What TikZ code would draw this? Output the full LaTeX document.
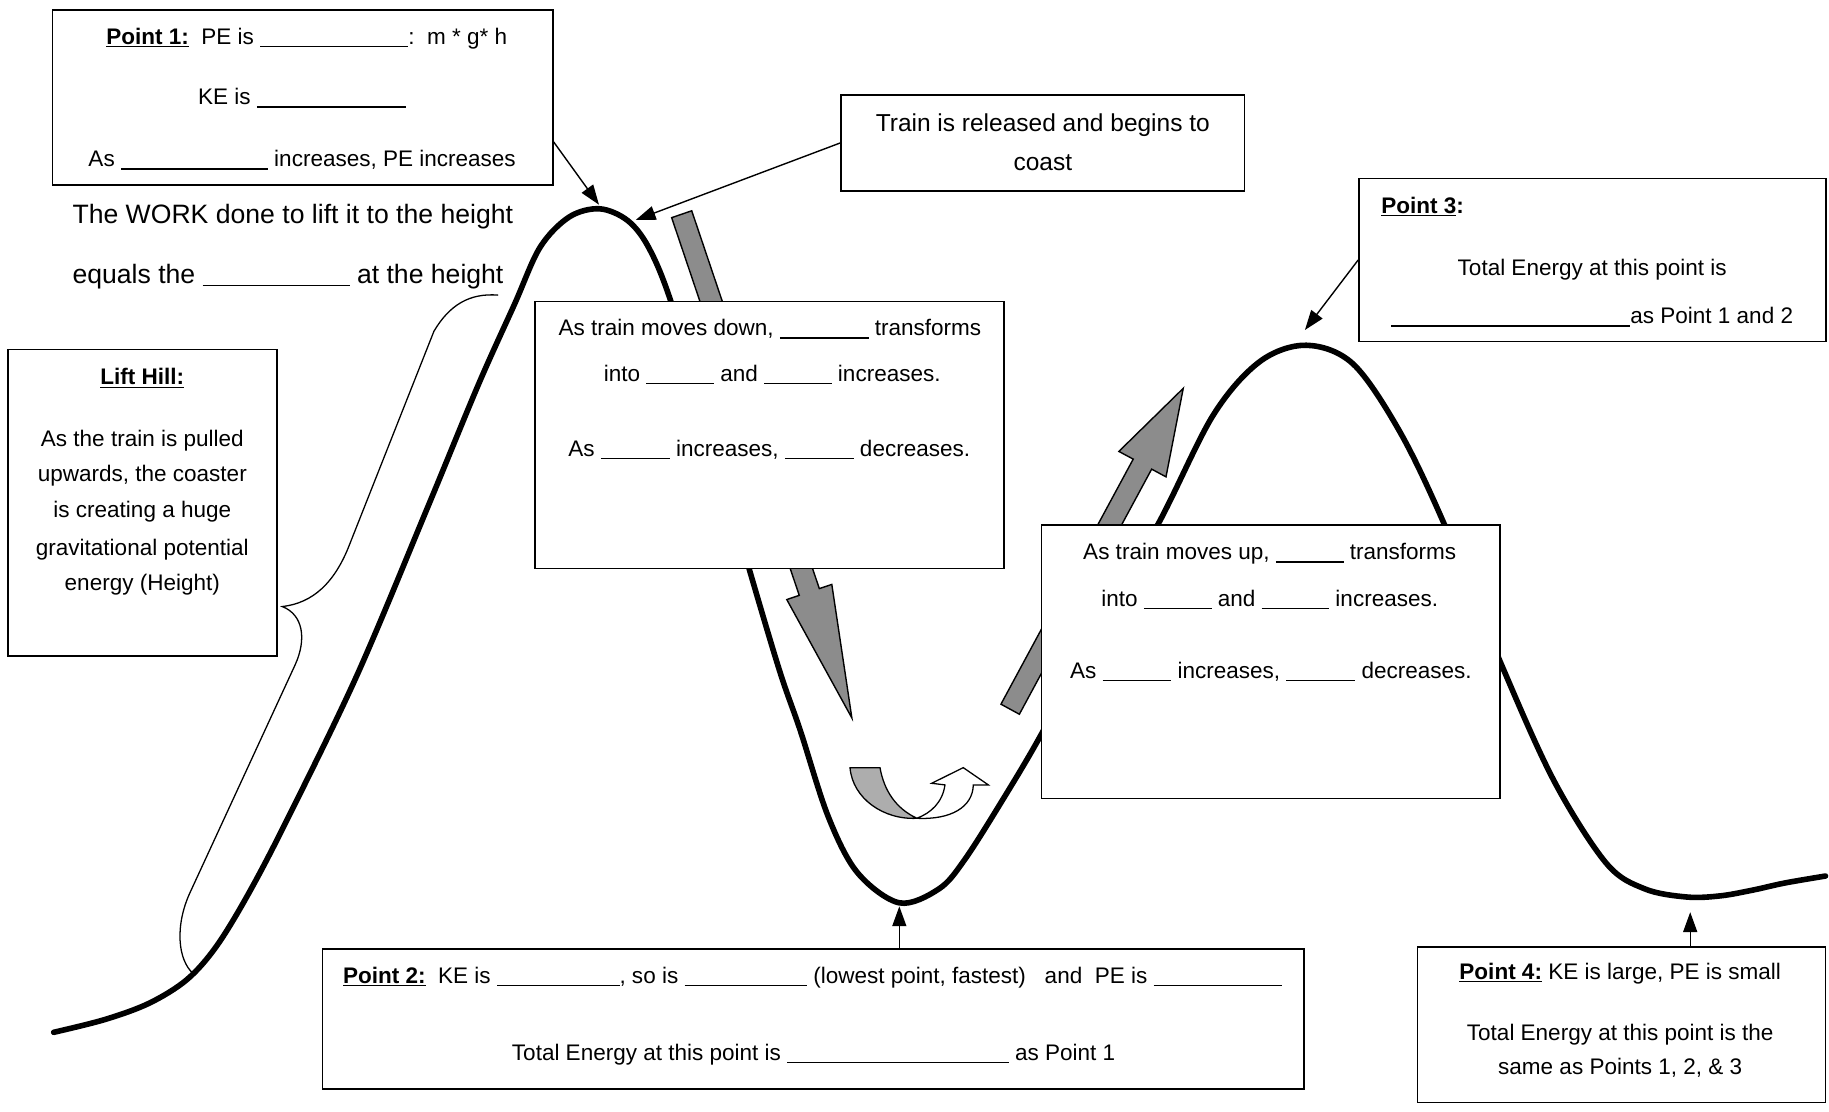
\documentclass[tikz,border=0pt]{standalone}
\usepackage{fontspec}
\setmainfont{Liberation Sans}
\usetikzlibrary{arrows.meta,calc}
\definecolor{arrowgray}{gray}{0.55}
\definecolor{ugray}{gray}{0.68}
\newcommand{\bl}[1]{\rule[-2.5pt]{#1pt}{1.2pt}}
\tikzset{
  boxst/.style={draw, line width=1.3pt, fill=white, inner sep=0pt},
  txt/.style={font=\fontsize{19.3pt}{23pt}\selectfont, inner sep=0pt, anchor=base},
  txtl/.style={txt, anchor=base west},
  bigtxt/.style={font=\fontsize{21pt}{25pt}\selectfont, inner sep=0pt, anchor=base},
  worktxt/.style={font=\fontsize{22.8pt}{27pt}\selectfont, inner sep=0pt, anchor=base west},
  track/.style={line width=4.8pt, line cap=round, line join=round},
  conn/.style={line width=1.2pt, -{Triangle[length=17pt,width=12pt]}},
  garrow/.style={draw, line width=1.2pt, fill=arrowgray, line join=miter},
  bracest/.style={line width=1.1pt}
}
\begin{document}
\begin{tikzpicture}[x=1pt,y=-1pt]
\path[fill=white] (0,0) rectangle (1568,952.46);
\useasboundingbox (0,0) rectangle (1568,952.46);

% roller coaster track
\draw[track] plot[smooth, tension=0.55] coordinates {
 (46,885) (90,874) (128,860) (160,840) (185,812) (212,768) (245,705) (306,579) (367,434)
 (410,330) (441,261) (463,212) (488,186) (514,179) (538,189) (556,212) (575,258)
 (607,365) (640,480) (668,574) (686,626) (710,700) (735,748) (771,774) (805,762)
 (827,737) (860,685) (893,629) (940,540) (993,449) (1040,356) (1080,310) (1120,296)
 (1160,312) (1200,370) (1238,449) (1286,567) (1332,669) (1377,740)
 (1410,762) (1446,769) (1475,768) (1503,763) (1530,757) (1565,751)};

% brace along the lift hill
\draw[bracest] (427,253) .. controls (402,251) and (385,262) .. (372,284) -- (300,466)
  .. controls (287,500) and (268,517) .. (242,520)
  .. controls (260,527) and (263,548) .. (253,570) -- (163,765)
  .. controls (150,793) and (152,823) .. (166,835);

% grey block arrow going down
\draw[garrow] (575.8,186.6) -- (593.0,180.7) -- (702.4,504.6) -- (713.1,501.0)
  -- (730.3,615.5) -- (674.5,514.0) -- (685.2,510.4) -- cycle;

% grey block arrow going up
\draw[garrow] (858.1,603.7) -- (873.9,612.3) -- (987.3,402.2) -- (999.6,408.8)
  -- (1014.4,332.9) -- (959.2,387.0) -- (971.5,393.6) -- cycle;

% U-turn arrow at the bottom
\draw[line width=1.1pt, fill=ugray] (728.7,658.1) -- (754.4,658.1)
  .. controls (758,678) and (768,693) .. (786,701.5)
  .. controls (758,703) and (731,685) .. (728.7,658.1) -- cycle;
\draw[line width=1.1pt, fill=white, line join=miter] (786,701.5)
  .. controls (815,703) and (834,692) .. (834.4,672.9) -- (847.3,672.9)
  -- (825.8,658.1) -- (798.7,671.5) -- (810.1,672.9)
  .. controls (808,688) and (798,697) .. (786,701.5) -- cycle;

% boxes
\node[boxst, minimum width=428.9pt, minimum height=150pt] (p1box) at (259.45,83.6) {};
\node[boxst, minimum width=346pt, minimum height=82.3pt] (trainbox) at (894,122.55) {};
\node[boxst, minimum width=230.6pt, minimum height=262.6pt] (liftbox) at (122,431.1) {};
\node[boxst, minimum width=402.1pt, minimum height=228.9pt] (downbox) at (659.65,373.05) {};
\node[boxst, minimum width=393pt, minimum height=234.4pt] (upbox) at (1089.5,567.2) {};
\node[boxst, minimum width=400.6pt, minimum height=140pt] (p3box) at (1365.3,222.9) {};
\node[boxst, minimum width=841.7pt, minimum height=120pt] (p2box) at (697.15,873.6) {};
\node[boxst, minimum width=350pt, minimum height=133pt] (p4box) at (1390,878.5) {};

% Point 1 texts
\node[txt] (p1a) at (263,38) {\underline{\textbf{Point 1:}}\ \ PE is \bl{127}:\ \ m * g* h};
\node[txt] (p1b) at (259,90) {KE is \bl{128}};
\node[txt] (p1c) at (259,143) {As \bl{126} increases, PE increases};

% work texts
\node[worktxt] (work1) at (62,191.5) {The WORK done to lift it to the height};
\node[worktxt] (work2) at (62,243) {equals the \bl{126} at the height};

% train box
\node[bigtxt] (train1) at (894,113) {Train is released and begins to};
\node[bigtxt] (train2) at (894,146) {coast};

% lift hill
\node[txt] (lift0) at (122,330) {\underline{\textbf{Lift Hill:}}};
\node[txt] (lift1) at (122,382.5) {As the train is pulled};
\node[txt] (lift2) at (122,413) {upwards, the coaster};
\node[txt] (lift3) at (122,444) {is creating a huge};
\node[txt] (lift4) at (122,476) {gravitational potential};
\node[txt] (lift5) at (122,506) {energy (Height)};

% down box
\node[txt] (down1) at (660,288) {As train moves down, \bl{76} transforms};
\node[txt] (down2) at (662,327) {into \bl{58} and \bl{58} increases.};
\node[txt] (down3) at (659.5,391) {As \bl{59} increases, \bl{59} decreases.};

% up box
\node[txt] (up1) at (1088.5,480) {As train moves up, \bl{58} transforms};
\node[txt] (up2) at (1088.5,520) {into \bl{58} and \bl{58} increases.};
\node[txt] (up3) at (1089.5,581.5) {As \bl{59} increases, \bl{59} decreases.};

% point 3
\node[txtl] (p3a) at (1184,183) {\underline{\textbf{Point 3}}\textbf{:}};
\node[txt] (p3b) at (1365,236) {Total Energy at this point is};
\node[txtl] (p3c) at (1192.5,277.5) {\bl{205}as Point 1 and 2};

% point 2
\node[txtl] (p2a) at (294,843) {\underline{\textbf{Point 2:}}\ \ KE is \bl{105}, so is \bl{105} (lowest point, fastest)\ \ \ and\ \ PE is \bl{110}};
\node[txt] (p2b) at (697.5,909) {Total Energy at this point is \bl{190} as Point 1};

% point 4
\node[txt] (p4a) at (1389,840) {\underline{\textbf{Point 4:}} KE is large, PE is small};
\node[txt] (p4b) at (1389,892) {Total Energy at this point is the};
\node[txt] (p4c) at (1389,921) {same as Points 1, 2, \& 3};

% connector targets
\coordinate (peak1tip) at (513.5,175.5);
\coordinate (traintip) at (545,188.6);
\coordinate (p3tip) at (1118.7,282.9);
\coordinate (p2tip) at (771,777);
\coordinate (p4tip) at (1449,782);

\draw[conn] (p1box.-10.4) -- (peak1tip);
\draw[conn] (trainbox.west) -- (traintip);
\draw[conn] (p3box.west) -- (p3tip);
\draw[conn] (p2tip |- p2box.north) -- (p2tip);
\draw[conn] (p4tip |- p4box.north) -- (p4tip);
\end{tikzpicture}
\end{document}
